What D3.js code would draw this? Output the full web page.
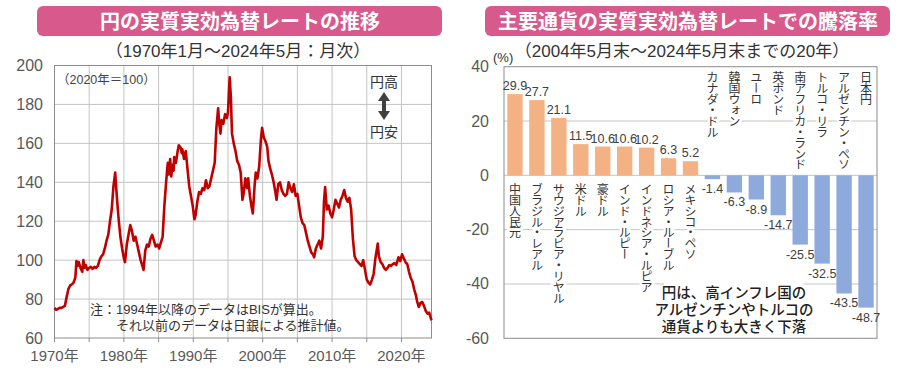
<!DOCTYPE html>
<html><head><meta charset="utf-8">
<script src="https://cdn.jsdelivr.net/npm/d3@7"></script>
<style>
html,body{margin:0;padding:0;background:#fff;}
svg{display:block;font-family:"Liberation Sans","Noto Sans CJK JP",sans-serif;}
.jp{font-family:"Noto Sans CJK JP",sans-serif;}
</style></head>
<body><svg id="c" width="900" height="370"></svg>
<script>
// ---------- DATA ----------
// Left chart: yen real effective exchange rate (2020=100), monthly, sampled
const yenReer = [
["1970-01",75.5],["1970-04",74.5],["1970-07",75],["1970-10",75.5],
["1971-01",75.5],["1971-04",76],["1971-07",76.5],["1971-10",81],
["1972-01",85],["1972-04",87],["1972-07",87.5],["1972-10",88.5],
["1973-01",91],["1973-03",99.5],["1973-05",97],["1973-07",99],["1973-10",96],
["1974-01",94],["1974-03",100],["1974-05",96],["1974-07",97.5],["1974-10",95],
["1975-01",96],["1975-04",96.5],["1975-07",95.5],["1975-10",96.5],
["1976-01",96],["1976-04",97],["1976-07",100],["1976-10",102],
["1977-01",103],["1977-04",106],["1977-07",110],["1977-10",113],
["1978-01",120],["1978-04",126],["1978-07",138],["1978-10",145],["1978-12",136],
["1979-02",128],["1979-04",121],["1979-07",112],["1979-10",106],
["1980-01",101],["1980-03",99],["1980-06",108],["1980-09",113],["1980-12",118],
["1981-03",115],["1981-06",110],["1981-09",112],["1981-12",108],
["1982-03",104],["1982-06",100],["1982-09",97],["1982-11",95],
["1983-02",105],["1983-05",108],["1983-08",107],["1983-11",111],
["1984-02",113],["1984-05",110],["1984-08",107],["1984-11",108],
["1985-02",106],["1985-05",109],["1985-08",112],["1985-11",128],
["1986-02",140],["1986-04",147],["1986-05",150],["1986-07",144],["1986-09",152],["1986-11",143],
["1987-01",149],["1987-03",146],["1987-04",153],["1987-07",150],["1987-10",156],["1987-12",159],
["1988-03",158],["1988-05",155],["1988-06",157],["1988-09",152],["1988-12",156],
["1989-03",147],["1989-06",138],["1989-09",133],["1989-12",128],
["1990-03",121],["1990-05",123],["1990-08",130],["1990-11",135],
["1991-02",134],["1991-05",137],["1991-08",136],["1991-11",141],
["1992-02",137],["1992-05",138],["1992-08",142],["1992-11",146],
["1993-02",150],["1993-05",168],["1993-08",178],["1993-10",170],["1993-12",165],
["1994-02",172],["1994-05",170],["1994-08",175],["1994-11",173],
["1995-01",176],["1995-04",194],["1995-06",184],["1995-08",165],["1995-11",160],
["1996-02",156],["1996-05",151],["1996-08",149],["1996-11",145],
["1997-02",131],["1997-04",134],["1997-07",142],["1997-10",137],["1997-12",142],
["1998-03",133],["1998-06",127],["1998-08",124],["1998-11",138],
["1999-01",145],["1999-04",142],["1999-07",148],["1999-10",162],["1999-12",168],
["2000-03",163],["2000-06",161],["2000-09",158],["2000-11",151],
["2001-02",147],["2001-05",144],["2001-08",140],["2001-11",135],["2002-01",131],
["2002-04",139],["2002-07",140],["2002-10",136],
["2003-01",134],["2003-04",133],["2003-07",134],["2003-10",140],
["2004-01",137],["2004-04",135],["2004-07",139],["2004-10",133],
["2005-01",134],["2005-04",128],["2005-07",122],["2005-10",119],
["2006-01",118],["2006-04",114],["2006-07",110],["2006-10",107],
["2007-01",104],["2007-04",103],["2007-06",101.5],["2007-09",106],["2007-12",108],
["2008-03",110],["2008-06",106],["2008-09",112],["2008-11",130],["2009-01",137.5],
["2009-04",126],["2009-07",128],["2009-10",124],
["2010-01",122],["2010-04",126],["2010-07",131],["2010-10",129],
["2011-01",127],["2011-04",131],["2011-07",133],["2011-10",136],
["2012-01",132],["2012-04",130],["2012-07",132],["2012-10",126],
["2013-01",111],["2013-04",102],["2013-07",100],["2013-10",99],
["2014-01",98],["2014-04",97],["2014-07",100],["2014-10",95],
["2015-01",90],["2015-04",88.5],["2015-07",87.5],["2015-10",90],
["2016-01",93],["2016-04",101],["2016-08",108.5],["2016-10",102],
["2017-01",99],["2017-04",98],["2017-07",96],["2017-10",95],
["2018-01",96],["2018-04",97.5],["2018-07",97],["2018-10",98],
["2019-01",98.5],["2019-04",97.5],["2019-08",101.5],["2019-11",99.5],
["2020-02",103],["2020-05",101],["2020-08",99],["2020-11",98],
["2021-02",94],["2021-05",91],["2021-08",89],["2021-11",85],
["2022-02",82],["2022-04",79],["2022-07",76],["2022-10",78],
["2023-01",78.5],["2023-04",76.5],["2023-07",74],["2023-10",72.5],
["2024-01",73],["2024-03",71],["2024-05",69]
];
const leftYTicks = [60, 80, 100, 120, 140, 160, 180, 200];
const leftXTickYears = [1970, 1980, 1990, 2000, 2010, 2020];
const leftGridYears = [1975, 1980, 1985, 1990, 1995, 2000, 2005, 2010, 2015, 2020];

// Right chart: change in REER over 20 years (%)
const currencies = ["中国人民元","ブラジル・レアル","サウジアラビア・リヤル","米ドル","豪ドル","インド・ルピー","インドネシア・ルピア","ロシア・ルーブル","メキシコ・ペソ","カナダ・ドル","韓国ウォン","ユーロ","英ポンド","南アフリカ・ランド","トルコ・リラ","アルゼンチン・ペソ","日本円"];
const changes = [29.9, 27.7, 21.1, 11.5, 10.6, 10.6, 10.2, 6.3, 5.2, -1.4, -6.3, -8.9, -14.7, -25.5, -32.5, -43.5, -48.7];
const rightYTicks = [40, 20, 0, -20, -40, -60];

// ---------- DRAW ----------
const svg = d3.select("#c");
const PINK = "#D8598C", GRID = "#c4c4c4", BORDER = "#8c8c8c", TICKTXT = "#595959";

function banner(x0, x1, text, cx) {
  svg.append("rect").attr("x", x0).attr("y", 6).attr("width", x1 - x0).attr("height", 30)
    .attr("rx", 6).attr("fill", PINK);
  svg.append("text").attr("class","jp").attr("x", cx).attr("y", 29).attr("text-anchor","middle")
    .attr("font-size", 20).attr("font-weight", 700).attr("fill", "#fff").text(text);
}
banner(37, 442, "円の実質実効為替レートの推移", 240);
banner(485, 890, "主要通貨の実質実効為替レートでの騰落率", 688);

svg.append("text").attr("x", 238).attr("y", 57).attr("text-anchor","middle")
  .attr("font-size", 17).attr("fill","#333").text("（1970年1月～2024年5月：月次）");
svg.append("text").attr("x", 682).attr("y", 57).attr("text-anchor","middle")
  .attr("font-size", 17).attr("fill","#333").text("（2004年5月末～2024年5月末までの20年）");

// ---- Left chart ----
const L = {x0: 54.5, x1: 431.5, y0: 65.5, y1: 338};
const parse = d3.timeParse("%Y-%m");
const xL = d3.scaleTime().domain([parse("1970-01"), parse("2024-05")]).range([L.x0, L.x1]);
const yL = d3.scaleLinear().domain([60, 200]).range([L.y1, L.y0]);
const gL = svg.append("g");
gL.selectAll("line.hg").data(leftYTicks.slice(1, -1)).join("line")
  .attr("x1", L.x0).attr("x2", L.x1).attr("y1", d => yL(d)).attr("y2", d => yL(d))
  .attr("stroke", GRID).attr("stroke-width", 1);
gL.selectAll("line.vg").data(leftGridYears).join("line")
  .attr("x1", d => xL(new Date(d,0,1))).attr("x2", d => xL(new Date(d,0,1)))
  .attr("y1", L.y0).attr("y2", L.y1).attr("stroke", GRID).attr("stroke-width", 1);
gL.append("rect").attr("x", L.x0).attr("y", L.y0).attr("width", L.x1 - L.x0).attr("height", L.y1 - L.y0)
  .attr("fill","none").attr("stroke", BORDER).attr("stroke-width", 1);
gL.selectAll("line.xt").data(leftGridYears.concat([1970])).join("line")
  .attr("x1", d => xL(new Date(d,0,1))).attr("x2", d => xL(new Date(d,0,1)))
  .attr("y1", L.y1).attr("y2", L.y1 + 4).attr("stroke", BORDER);
gL.selectAll("text.yt").data(leftYTicks).join("text")
  .attr("x", 43).attr("y", d => yL(d) + 5.5).attr("text-anchor","end")
  .attr("font-size", 16).attr("fill", TICKTXT).text(d => d);
gL.selectAll("text.xt").data(leftXTickYears).join("text")
  .attr("x", d => xL(new Date(d,0,1))).attr("y", 361).attr("text-anchor","middle")
  .attr("font-size", 15).attr("fill", TICKTXT).text(d => d + "年");

const line = d3.line().x(d => xL(parse(d[0]))).y(d => yL(d[1])).curve(d3.curveLinear);
gL.append("path").datum(yenReer).attr("d", line).attr("fill","none")
  .attr("stroke","#C00000").attr("stroke-width", 2.6).attr("stroke-linejoin","round");

gL.append("text").attr("x", 57).attr("y", 84).attr("font-size", 12.5).attr("fill","#444").text("（2020年＝100）");
gL.append("text").attr("x", 384).attr("y", 87).attr("text-anchor","middle").attr("font-size", 14).attr("fill","#333").text("円高");
gL.append("text").attr("x", 384).attr("y", 137).attr("text-anchor","middle").attr("font-size", 14).attr("fill","#333").text("円安");
gL.append("path").attr("d", "M384,92 L390,101 L386,101 L386,111 L390,111 L384,120 L378,111 L382,111 L382,101 L378,101 Z")
  .attr("fill", "#404040");
gL.append("text").attr("x", 90).attr("y", 314).attr("font-size", 13).attr("fill","#333").text("注：1994年以降のデータはBISが算出。");
gL.append("text").attr("x", 116).attr("y", 330).attr("font-size", 13).attr("fill","#333").text("それ以前のデータは日銀による推計値。");

// ---- Right chart ----
const R = {x0: 504, x1: 877, y0: 66.7, y1: 338.3};
const xR = d3.scaleBand().domain(currencies).range([R.x0, R.x1]).paddingInner(0.3).paddingOuter(0.15);
const yR = d3.scaleLinear().domain([-60, 40]).range([R.y1, R.y0]);
const gR = svg.append("g");
gR.selectAll("line.hg").data(rightYTicks.slice(1, -1)).join("line")
  .attr("x1", R.x0).attr("x2", R.x1).attr("y1", d => yR(d)).attr("y2", d => yR(d))
  .attr("stroke", GRID).attr("stroke-width", 1);
gR.append("rect").attr("x", R.x0).attr("y", R.y0).attr("width", R.x1 - R.x0).attr("height", R.y1 - R.y0)
  .attr("fill","none").attr("stroke", BORDER).attr("stroke-width", 1);
gR.selectAll("text.yt").data(rightYTicks).join("text")
  .attr("x", 489).attr("y", d => yR(d) + 5.5).attr("text-anchor","end")
  .attr("font-size", 16).attr("fill", TICKTXT).text(d => d);
gR.append("text").attr("x", 493).attr("y", 62).attr("font-size", 13).attr("fill","#333").text("(%)");

// category labels (vertical), with white halo to break gridlines
gR.selectAll("text.cat").data(currencies).join("text")
  .attr("class","jp")
  .attr("x", d => xR(d) + xR.bandwidth()/2)
  .attr("y", (d,i) => changes[i] >= 0 ? yR(0) + 8 : R.y0 + 5)
  .attr("writing-mode","vertical-rl")
  .attr("font-size", 12).attr("letter-spacing", -1.1).attr("fill","#333")
  .attr("stroke","#fff").attr("stroke-width", 5).attr("paint-order","stroke")
  .text(d => d);

// annotation with white background
const annLines = ["円は、高インフレ国の","アルゼンチンやトルコの","通貨よりも大きく下落"];
gR.append("rect").attr("x", 664).attr("y", 280).attr("width", 140).attr("height", 54).attr("fill","#fff");
gR.selectAll("text.ann").data(annLines).join("text")
  .attr("x", 734).attr("y", (d,i) => 298 + i * 17).attr("text-anchor","middle")
  .attr("font-size", 14.5).attr("font-weight", 500).attr("fill","#222").text(d => d);

gR.selectAll("rect.bar").data(changes).join("rect")
  .attr("x", (d,i) => xR(currencies[i])).attr("width", xR.bandwidth())
  .attr("y", d => d >= 0 ? yR(d) : yR(0)).attr("height", d => Math.abs(yR(d) - yR(0)))
  .attr("fill", d => d >= 0 ? "#F4B183" : "#8EA9DB");

gR.selectAll("text.val").data(changes).join("text")
  .attr("x", (d,i) => xR(currencies[i]) + xR.bandwidth()/2)
  .attr("y", d => d >= 0 ? yR(d) - 4 : yR(d) + 14)
  .attr("text-anchor","middle").attr("font-size", 12.5).attr("fill","#404040")
  .text(d => d.toFixed(1));
</script></body></html>
